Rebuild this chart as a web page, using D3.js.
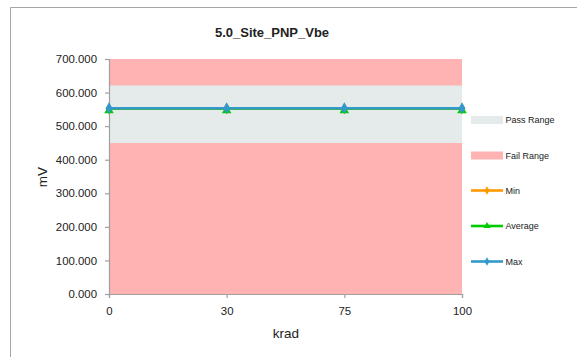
<!DOCTYPE html>
<html><head><meta charset="utf-8">
<script src="https://cdn.jsdelivr.net/npm/d3@7"></script>
<style>body{margin:0;background:#fff}svg{display:block}text{font-family:"Liberation Sans",Arial,sans-serif;fill:#222}</style>
</head><body><svg id="c" width="577" height="357"></svg>
<script>
const title = "5.0_Site_PNP_Vbe";
const categories = ["0", "30", "75", "100"];
const yTicks = [0, 100, 200, 300, 400, 500, 600, 700];
const passLow = [450, 450, 450, 450];
const passHigh = [621, 621, 621, 621];
const failMax = [700, 700, 700, 700];
const minVals = [552, 552, 552, 552];
const avgVals = [552.5, 552.5, 552.5, 552.5];
const maxVals = [553.5, 553.5, 553.5, 553.5];
const legendNames = ["Pass Range", "Fail Range", "Min", "Average", "Max"];

const svg = d3.select("#c");
const L = 109, R = 462, T = 59, B = 294;
const x = d3.scalePoint().domain(categories).range([L, R]);
const y = d3.scaleLinear().domain([0, 700]).range([B, T]);

// outer frame
svg.append("path").attr("d", `M10.5,357 V7.5 H577`).attr("fill", "none").attr("stroke", "#a6a6a6").attr("stroke-width", 1);

const area = (lo, hi) => d3.area().x((d, i) => x(categories[i])).y0((d, i) => y(lo[i])).y1((d, i) => y(hi[i]));
const zeros = categories.map(() => 0);
svg.append("path").datum(categories).attr("d", area(zeros, failMax)).attr("fill", "#ffb3b3");
svg.append("path").datum(categories).attr("d", area(passLow, passHigh)).attr("fill", "#e5ebeb");

// axes
const ya = svg.append("g").attr("transform", `translate(${L},0)`)
  .call(d3.axisLeft(y).tickValues(yTicks).tickFormat(d3.format(".3f")).tickSizeOuter(0).tickSize(4).tickPadding(8));
const xa = svg.append("g").attr("transform", `translate(0,${B})`)
  .call(d3.axisBottom(x).tickSizeOuter(0).tickSize(4).tickPadding(6));
[ya, xa].forEach(g => {
  g.selectAll("path,line").attr("stroke", "#a0a0a0").attr("stroke-width", 1.2);
  g.selectAll("text").attr("font-size", 11.4).attr("fill", "#222");
});
xa.selectAll("text").attr("dy", "0.95em");

const series = [
  {vals: minVals, color: "#ff9900", marker: d3.symbolDiamond},
  {vals: avgVals, color: "#00cc00", marker: d3.symbolTriangle},
  {vals: maxVals, color: "#3399cc", marker: d3.symbolDiamond}
];
const line = d3.line().x((d, i) => x(categories[i])).y(d => y(d));
series.forEach(s => {
  svg.append("path").datum(s.vals).attr("d", line).attr("fill", "none").attr("stroke", s.color).attr("stroke-width", 2.6);
  svg.selectAll(null).data(s.vals).enter().append("path")
    .attr("d", d3.symbol().type(s.marker).size(40))
    .attr("transform", (d, i) => `translate(${x(categories[i])},${y(d) + (s.marker === d3.symbolTriangle ? 2 : 0)})`)
    .attr("fill", s.color);
});

// title
svg.append("text").attr("x", 272).attr("y", 37).attr("text-anchor", "middle")
  .attr("font-size", 13).attr("font-weight", "bold").text(title);
// axis titles
svg.append("text").attr("x", 286).attr("y", 338).attr("text-anchor", "middle").attr("font-size", 13.5).text("krad");
svg.append("text").attr("transform", "translate(47,177) rotate(-90)").attr("text-anchor", "middle").attr("font-size", 13.5).text("mV");

// legend
const ly = [120, 155.5, 190.5, 226, 261.5];
const lg = svg.append("g");
legendNames.forEach((n, i) => {
  const yy = ly[i];
  if (i < 2) {
    lg.append("rect").attr("x", 471).attr("y", yy - 4).attr("width", 32).attr("height", 8)
      .attr("fill", i === 0 ? "#e5ebeb" : "#ffb3b3");
  } else {
    const s = series[i - 2];
    lg.append("line").attr("x1", 471).attr("x2", 503).attr("y1", yy).attr("y2", yy)
      .attr("stroke", s.color).attr("stroke-width", 2.6);
    lg.append("path").attr("d", d3.symbol().type(s.marker).size(22))
      .attr("transform", `translate(487,${yy})`).attr("fill", s.color);
  }
  lg.append("text").attr("x", 505.5).attr("y", yy + 3.3).attr("font-size", 9).text(n);
});
</script></body></html>
